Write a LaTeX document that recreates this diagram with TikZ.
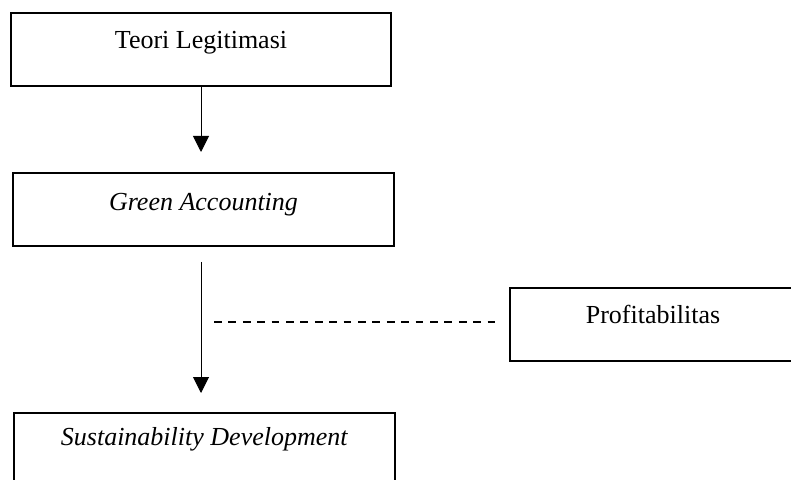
\documentclass[tikz,border=0pt]{standalone}
\usepackage{fontspec}
\setmainfont{Liberation Serif}
\usetikzlibrary{arrows.meta}
\begin{document}
\begin{tikzpicture}[x=0.5pt,y=-0.5pt,
		kotak/.style={draw,line width=0.8pt,inner xsep=0pt,inner ysep=0pt,anchor=north,
			font=\fontsize{13}{15}\selectfont},
		panah/.style={-{Triangle[width=8pt,length=8pt]},line width=0.5pt}]
			\useasboundingbox (0,0) rectangle (791,480);
			\node (Te) at (201,12)  [kotak,minimum width=190pt,text height=18pt,text depth=18.5pt] {Teori Legitimasi};
			\node (Ga) at (203.5,172) [kotak,minimum width=190.5pt,text height=19pt,text depth=17.5pt] {\textit{Green Accounting}};
			\node (Pr) at (653,287) [kotak,minimum width=143pt,text height=18pt,text depth=18.5pt] {Profitabilitas};
			\node (Su) at (204.5,412) [kotak,minimum width=190.5pt,text height=16.5pt,text depth=20pt] {\textit{Sustainability Development}};
			\coordinate (Ga1) at (201,245);
			\coordinate (Su1) at (201,412);
			\coordinate (Pt) at (214,322);
			\draw[panah,shorten >=10pt] (Te.south) -- (Te.south |- Ga.north);
			\draw[panah,shorten <=8.5pt,shorten >=9.5pt] (Ga1) -- (Su1);
			\draw[dash pattern=on 3.9pt off 3.3pt,line width=0.6pt,shorten >=4pt] (Pt) -- (Pr.west |- Pt);
		\end{tikzpicture}
\end{document}
